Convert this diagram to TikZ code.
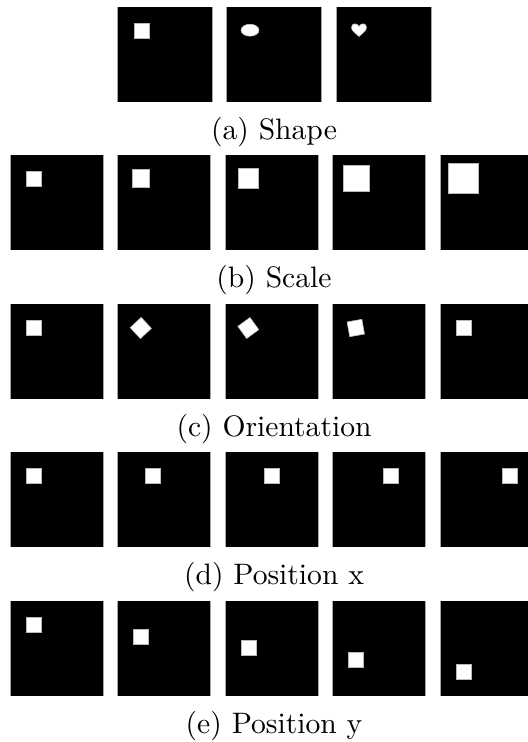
\documentclass[tikz,border=0pt]{standalone}
\begin{document}
\begin{tikzpicture}[x=0.3378pt,y=-0.3378pt,
  sprbg/.style={fill=black},
  spredge/.style={draw=gray!70,line width=0.3pt},
  spr/.style={fill=white,draw=gray!55,line width=0.2pt},
  caption/.style={anchor=base,inner sep=0pt,font=\normalsize}]
\useasboundingbox (0,0) rectangle (528,742);
\clip (0,0) rectangle (528,742);
% ---- helper: one sprite image
\newcommand\sprimg[3]{% left, top, width
  \fill[sprbg] (#1,#2) rectangle ++(#3,95);
  \draw[spredge] (#1,#2) -- ++(0,95);
  \draw[spredge] ({#1+#3},#2) -- ++(0,95);}
% ---- (a) Shape
\sprimg{117}{7}{95}
\sprimg{226.5}{7}{95}
\sprimg{336}{7}{95}
\filldraw[spr] (134,23) rectangle (149,38);
\filldraw[spr] (250,30.2) ellipse [x radius=9,y radius=6];
\filldraw[spr,shift={(359,30)}] (0,-3.5) .. controls (-1.5,-7) and (-7.5,-7.5) .. (-7.5,-2.5)
  .. controls (-7.5,1) and (-3,3.5) .. (0,6.5)
  .. controls (3,3.5) and (7.5,1) .. (7.5,-2.5)
  .. controls (7.5,-7.5) and (1.5,-7) .. (0,-3.5) -- cycle;
\node[caption] (capa) at (274,139) {(a) Shape};
% ---- (b) Scale
\foreach \L/\s in {10/15,117.5/17.5,225/20.5,332.5/26,440/29.6}{
  \sprimg{\L}{155}{93}
  \filldraw[spr,shift={(\L+23.3,178.5)}] (-\s/2,-\s/2) rectangle (\s/2,\s/2);
}
\node[caption] (capb) at (274,287) {(b) Scale};
% ---- (c) Orientation
\foreach \L/\a in {10/0,117.5/43,225/36,332.5/10,440/0}{
  \sprimg{\L}{304}{93}
  \filldraw[spr,shift={(\L+23.3,328)},rotate=\a] (-7.5,-7.5) rectangle (7.5,7.5);
}
\node[caption] (capc) at (274,436) {(c) Orientation};
% ---- (d) Position x
\foreach \L/\dx in {10/23.5,117.5/35.5,225/47,332.5/58.5,440/70}{
  \sprimg{\L}{452}{93}
  \filldraw[spr,shift={(\L+\dx,475.8)}] (-7.3,-7.3) rectangle (7.3,7.3);
}
\node[caption] (capd) at (274,584) {(d) Position x};
% ---- (e) Position y
\foreach \L/\dy in {10/23.8,117.5/35.5,225/47,332.5/58.5,440/70.5}{
  \sprimg{\L}{601}{93}
  \filldraw[spr,shift={(\L+23.5,601+\dy)}] (-7.3,-7.3) rectangle (7.3,7.3);
}
\node[caption] (cape) at (274,733) {(e) Position y};
\end{tikzpicture}
\end{document}
